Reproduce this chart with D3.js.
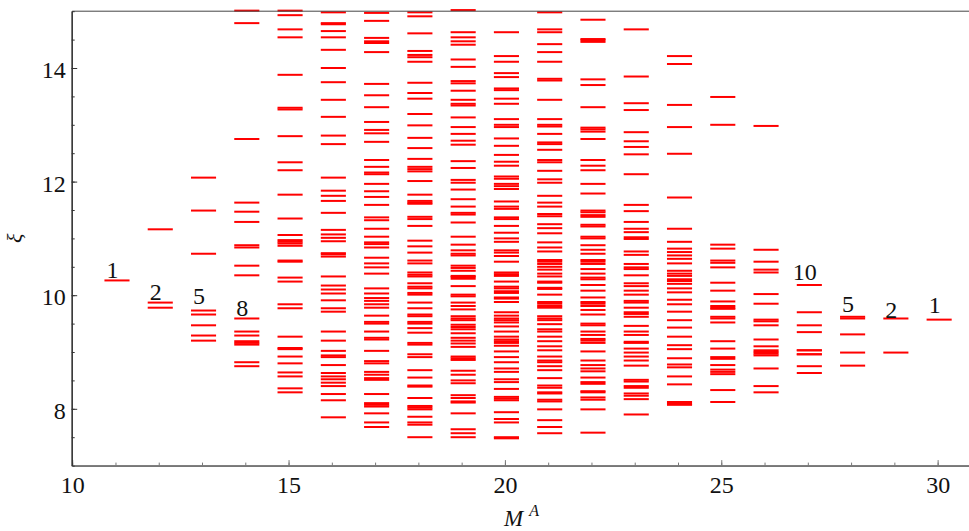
<!DOCTYPE html>
<html>
<head>
<meta charset="utf-8">
<script src="https://cdn.jsdelivr.net/npm/d3@7"></script>
<style>
  html, body { margin: 0; padding: 0; background: #fff; }
  svg { display: block; }
  text { font-family: "Liberation Serif", "Times New Roman", serif; fill: #111; }
</style>
</head>
<body>
<svg id="chart" width="969" height="531"></svg>
<script>
// Number of constituents M^A, one column of levels per value
const mValues = [11, 12, 13, 14, 15, 16, 17, 18, 19, 20, 21, 22, 23, 24, 25, 26, 27, 28, 29, 30];

// Levels ξ for each column, in the same order as mValues
const xiLevels = [
  [10.26],
  [11.16, 9.87, 9.78],
  [12.07, 11.49, 10.73, 9.73, 9.66, 9.47, 9.29, 9.20],
  [15.01, 14.79, 12.75, 11.63, 11.47, 11.29, 10.88, 10.84, 10.52, 10.35, 9.59, 9.36, 9.29, 9.19, 9.16, 9.13, 8.82, 8.75],
  [15.01, 14.93, 14.68, 14.54, 13.88, 13.30, 13.27, 12.80, 12.34, 12.20, 11.77, 11.35, 11.06, 10.97, 10.94, 10.91, 10.87, 10.61, 10.59, 10.31, 10.24, 9.84, 9.77, 9.27, 9.07, 9.05, 8.92, 8.80, 8.64, 8.57, 8.36, 8.29],
  [14.98, 14.79, 14.77, 14.65, 14.54, 14.32, 14.00, 13.75, 13.44, 13.14, 12.81, 12.66, 12.07, 11.84, 11.75, 11.66, 11.45, 11.15, 11.07, 11.01, 10.95, 10.74, 10.72, 10.68, 10.33, 10.17, 10.10, 10.03, 9.91, 9.77, 9.71, 9.36, 9.20, 9.02, 8.94, 8.91, 8.77, 8.63, 8.57, 8.52, 8.46, 8.40, 8.26, 8.15, 7.85],
  [14.97, 14.83, 14.53, 14.47, 14.44, 14.28, 13.72, 13.52, 13.31, 13.05, 12.91, 12.85, 12.70, 12.38, 12.26, 12.16, 12.13, 11.96, 11.83, 11.73, 11.59, 11.37, 11.32, 11.17, 11.03, 10.93, 10.90, 10.84, 10.66, 10.56, 10.49, 10.38, 10.12, 10.03, 9.95, 9.90, 9.84, 9.78, 9.64, 9.53, 9.50, 9.36, 9.25, 9.22, 9.02, 8.84, 8.80, 8.65, 8.60, 8.54, 8.51, 8.26, 8.10, 8.07, 8.04, 7.92, 7.76, 7.68],
  [14.98, 14.91, 14.61, 14.30, 14.23, 14.19, 14.11, 13.74, 13.56, 13.46, 13.19, 12.99, 12.77, 12.59, 12.40, 12.26, 12.22, 12.18, 12.01, 11.77, 11.66, 11.63, 11.61, 11.38, 11.34, 11.22, 10.96, 10.86, 10.75, 10.61, 10.56, 10.40, 10.36, 10.33, 10.21, 10.15, 10.12, 10.04, 10.01, 9.87, 9.77, 9.66, 9.63, 9.53, 9.50, 9.42, 9.34, 9.16, 9.13, 8.96, 8.91, 8.68, 8.55, 8.41, 8.39, 8.19, 8.05, 8.02, 7.99, 7.86, 7.76, 7.72, 7.50],
  [15.02, 14.63, 14.54, 14.47, 14.41, 14.15, 14.02, 13.77, 13.73, 13.60, 13.44, 13.37, 13.34, 13.13, 12.96, 12.84, 12.72, 12.65, 12.36, 12.24, 12.03, 11.98, 11.86, 11.69, 11.56, 11.45, 11.42, 11.28, 11.03, 10.89, 10.79, 10.73, 10.70, 10.52, 10.48, 10.43, 10.34, 10.32, 10.29, 10.16, 10.01, 9.98, 9.87, 9.81, 9.75, 9.63, 9.59, 9.56, 9.48, 9.44, 9.40, 9.33, 9.25, 9.20, 9.15, 9.09, 8.92, 8.89, 8.86, 8.67, 8.60, 8.50, 8.45, 8.24, 8.19, 8.13, 8.11, 7.92, 7.64, 7.57, 7.50],
  [14.63, 14.21, 14.11, 13.91, 13.84, 13.64, 13.61, 13.46, 13.37, 13.10, 13.00, 12.96, 12.76, 12.63, 12.47, 12.35, 12.28, 12.09, 12.05, 11.96, 11.92, 11.87, 11.65, 11.56, 11.52, 11.37, 11.34, 11.22, 11.10, 11.00, 10.94, 10.79, 10.75, 10.69, 10.59, 10.40, 10.37, 10.34, 10.24, 10.15, 10.12, 10.07, 10.04, 9.96, 9.94, 9.88, 9.70, 9.64, 9.59, 9.56, 9.52, 9.45, 9.36, 9.27, 9.22, 9.19, 9.16, 9.11, 9.01, 8.91, 8.82, 8.71, 8.65, 8.52, 8.47, 8.35, 8.21, 8.18, 8.15, 7.94, 7.82, 7.76, 7.50, 7.48],
  [14.98, 14.68, 14.63, 14.42, 14.28, 14.11, 13.81, 13.78, 13.44, 13.10, 13.00, 12.97, 12.84, 12.69, 12.66, 12.56, 12.38, 12.34, 12.19, 12.04, 11.98, 11.75, 11.63, 11.56, 11.43, 11.39, 11.25, 11.18, 11.09, 10.93, 10.84, 10.77, 10.62, 10.59, 10.55, 10.50, 10.45, 10.38, 10.33, 10.24, 10.22, 10.13, 10.11, 10.01, 9.88, 9.85, 9.81, 9.78, 9.63, 9.59, 9.56, 9.49, 9.40, 9.36, 9.27, 9.19, 9.10, 9.03, 8.92, 8.85, 8.82, 8.75, 8.68, 8.54, 8.41, 8.37, 8.29, 8.27, 8.16, 8.13, 7.99, 7.80, 7.68, 7.57],
  [14.85, 14.51, 14.49, 14.46, 13.80, 13.70, 13.31, 12.95, 12.92, 12.88, 12.75, 12.38, 12.28, 12.20, 11.96, 11.79, 11.49, 11.46, 11.41, 11.38, 11.24, 11.21, 11.03, 11.00, 10.88, 10.80, 10.73, 10.62, 10.59, 10.55, 10.46, 10.38, 10.31, 10.28, 10.18, 10.08, 9.96, 9.88, 9.85, 9.81, 9.74, 9.66, 9.50, 9.47, 9.36, 9.30, 9.23, 9.20, 9.16, 9.01, 8.85, 8.77, 8.71, 8.66, 8.55, 8.47, 8.44, 8.31, 8.29, 8.20, 8.16, 7.99, 7.58],
  [14.68, 13.85, 13.38, 13.26, 12.87, 12.71, 12.61, 12.48, 12.13, 11.59, 11.48, 11.29, 11.17, 11.11, 11.02, 10.99, 10.77, 10.71, 10.55, 10.49, 10.46, 10.35, 10.21, 10.16, 10.08, 10.01, 9.90, 9.87, 9.78, 9.70, 9.67, 9.62, 9.46, 9.36, 9.30, 9.18, 9.16, 9.06, 8.99, 8.92, 8.85, 8.76, 8.51, 8.48, 8.40, 8.37, 8.27, 8.23, 8.17, 7.90],
  [14.21, 14.07, 13.35, 12.96, 12.49, 11.72, 11.17, 10.94, 10.82, 10.76, 10.70, 10.64, 10.56, 10.43, 10.38, 10.34, 10.28, 10.25, 10.20, 10.12, 10.05, 9.92, 9.84, 9.71, 9.56, 9.43, 9.27, 9.12, 9.05, 8.89, 8.78, 8.73, 8.57, 8.43, 8.12, 8.09, 8.07],
  [13.49, 13.00, 10.89, 10.82, 10.61, 10.57, 10.49, 10.22, 10.08, 9.89, 9.81, 9.78, 9.76, 9.62, 9.59, 9.52, 9.19, 9.06, 8.91, 8.88, 8.77, 8.69, 8.65, 8.61, 8.33, 8.12],
  [12.98, 10.80, 10.59, 10.45, 10.40, 10.02, 9.85, 9.57, 9.54, 9.47, 9.22, 9.10, 9.03, 9.00, 8.97, 8.94, 8.71, 8.40, 8.29],
  [10.18, 9.70, 9.47, 9.35, 9.03, 9.03, 8.96, 8.96, 8.75, 8.63],
  [9.62, 9.59, 9.31, 8.99, 8.76],
  [9.59, 8.99],
  [9.57]
];

// Multiplicity annotations: text, column and baseline level
const countLabels = ["1", "2", "5", "8", "10", "5", "2", "1"];
const countLabelM = [11, 12, 13, 14, 27, 28, 29, 30];
const countLabelXi = [10.31, 9.91, 9.85, 9.63, 10.27, 9.71, 9.60, 9.69];

// Axis ticks
const xMajorTicks = [10, 15, 20, 25, 30];
const xMinorTicks = d3.range(10, 32, 1);
const yMajorTicks = [8, 10, 12, 14];
const yMinorTicks = d3.range(7, 15.01, 0.5);

const width = 969, height = 531;
const svg = d3.select("#chart");

const x = d3.scaleLinear().domain([10, 31]).range([72.2, 980.9]);
const y = d3.scaleLinear().domain([7, 15]).range([465.6, 11.2]);

// Each level is a short horizontal dash slightly offset around its column
const dashLeft = 0.255, dashRight = 0.325;

const rows = [];
mValues.forEach((m, i) => xiLevels[i].forEach(v => rows.push({ m, v })));

svg.append("rect").attr("width", width).attr("height", height).attr("fill", "#fff");

svg.append("g")
  .selectAll("line")
  .data(rows)
  .join("line")
  .attr("x1", d => x(d.m - dashLeft))
  .attr("x2", d => x(d.m + dashRight))
  .attr("y1", d => y(d.v))
  .attr("y2", d => y(d.v))
  .attr("stroke", "#ff0000")
  .attr("stroke-width", 2);

// Frame: top line, left and bottom axes
svg.append("line")
  .attr("x1", x(10)).attr("x2", width)
  .attr("y1", y(15)).attr("y2", y(15))
  .attr("stroke", "#444").attr("stroke-width", 1);

const xAxisMinor = d3.axisBottom(x).tickValues(xMinorTicks).tickSizeInner(-3).tickSizeOuter(0).tickFormat("");
const xAxisMajor = d3.axisBottom(x).tickValues(xMajorTicks).tickSizeInner(-5.5).tickSizeOuter(0).tickPadding(0).tickFormat(d3.format("d"));
const yAxisMinor = d3.axisLeft(y).tickValues(yMinorTicks).tickSizeInner(-3).tickSizeOuter(0).tickFormat("");
const yAxisMajor = d3.axisLeft(y).tickValues(yMajorTicks).tickSizeInner(-5.5).tickSizeOuter(0).tickPadding(0).tickFormat(d3.format("d"));

function styleAxis(g, col, w) {
  g.select(".domain").attr("stroke", col).attr("stroke-width", w);
  g.selectAll(".tick line").attr("stroke", col).attr("stroke-width", 1);
  g.selectAll(".tick text")
    .attr("font-family", "'Liberation Serif', 'Times New Roman', serif")
    .attr("font-size", 24)
    .attr("fill", "#111");
}

const gx = svg.append("g").attr("transform", `translate(0,${y(7)})`);
gx.append("g").call(xAxisMinor).call(g => styleAxis(g, "#777", 1.6));
gx.append("g").call(xAxisMajor).call(g => styleAxis(g, "#777", 1.6))
  .call(g => g.selectAll(".tick text").attr("y", 27).attr("dy", 0));

const gy = svg.append("g").attr("transform", `translate(${x(10) - 0.5},0)`);
gy.append("g").call(yAxisMinor).call(g => styleAxis(g, "#333", 1.2));
gy.append("g").call(yAxisMajor).call(g => styleAxis(g, "#333", 1.2))
  .call(g => g.selectAll(".tick text").attr("x", -6).attr("dy", "0.4em"));

// Multiplicity labels
svg.append("g")
  .selectAll("text")
  .data(countLabels)
  .join("text")
  .attr("x", (d, i) => x(countLabelM[i]) - 3)
  .attr("y", (d, i) => y(countLabelXi[i]))
  .attr("text-anchor", "middle")
  .attr("font-size", 24)
  .text(d => d);

// Axis titles
const xTitle = svg.append("text")
  .attr("x", 504)
  .attr("y", 526)
  .attr("font-size", 23)
  .attr("font-style", "italic");
xTitle.append("tspan").text("M");
xTitle.append("tspan").attr("dx", 6).attr("dy", -10).attr("font-size", 16).text("A");

svg.append("text")
  .attr("transform", `translate(22,${y(11)})rotate(-90)`)
  .attr("text-anchor", "middle")
  .attr("font-size", 22)
  .attr("font-style", "italic")
  .text("ξ");
</script>
</body>
</html>
